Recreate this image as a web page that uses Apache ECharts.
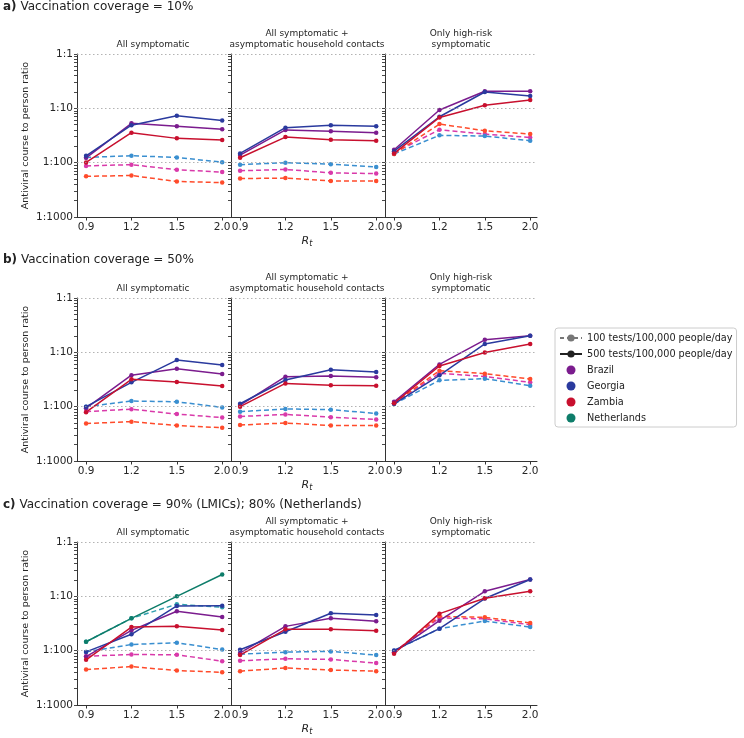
<!DOCTYPE html>
<html>
<head>
<meta charset="utf-8">
<script src="https://cdn.jsdelivr.net/npm/echarts@6/dist/echarts.min.js"></script>
<style>
  html, body { margin: 0; padding: 0; background: #fff; }
  #chart { width: 744px; height: 738px; }
</style>
</head>
<body>
<div id="chart"></div>
<script>
// x categories (Rt) and y ticks (courses per person, log scale)
const rtLabels = ['0.9', '1.2', '1.5', '2.0'];
const yMajor = [0.001, 0.01, 0.1, 1];
const yMinor = [0.002, 0.003, 0.004, 0.005, 0.006, 0.007, 0.008, 0.009,
                0.02, 0.03, 0.04, 0.05, 0.06, 0.07, 0.08, 0.09,
                0.2, 0.3, 0.4, 0.5, 0.6, 0.7, 0.8, 0.9];

const rowTitles = [
    ['a)', 'Vaccination coverage = 10%'],
    ['b)', 'Vaccination coverage = 50%'],
    ['c)', 'Vaccination coverage = 90% (LMICs); 80% (Netherlands)'],
];
const panelTitles = ['All symptomatic', 'All symptomatic +\nasymptomatic household contacts', 'Only high-risk\nsymptomatic'];

// values = antiviral courses per person; *500 = 500 tests (solid), *100 = 100 tests (dashed)
// a) 10% coverage
const aAllSymp = {
    Brazil500: [0.0123, 0.053, 0.047, 0.041], Georgia500: [0.0134, 0.049, 0.073, 0.060], Zambia500: [0.0101, 0.0356, 0.028, 0.026],
    Brazil100: [0.0087, 0.0092, 0.0074, 0.0067], Georgia100: [0.0125, 0.0134, 0.0125, 0.0102], Zambia100: [0.0056, 0.0058, 0.0045, 0.0043],
};
const aHousehold = {
    Brazil500: [0.0138, 0.040, 0.038, 0.0356], Georgia500: [0.0148, 0.044, 0.0486, 0.0466], Zambia500: [0.0123, 0.0296, 0.0264, 0.0253],
    Brazil100: [0.0071, 0.0075, 0.0065, 0.0063], Georgia100: [0.0092, 0.0100, 0.0094, 0.0083], Zambia100: [0.0051, 0.0052, 0.0046, 0.0046],
};
const aHighRisk = {
    Brazil500: [0.0173, 0.093, 0.206, 0.206], Georgia500: [0.0163, 0.070, 0.200, 0.168], Zambia500: [0.0148, 0.068, 0.1135, 0.142],
    Brazil100: [0.0152, 0.0404, 0.0336, 0.029], Georgia100: [0.0145, 0.0318, 0.0309, 0.0253], Zambia100: [0.0145, 0.0514, 0.0387, 0.0336],
};
// b) 50% coverage
const bAllSymp = {
    Brazil500: [0.0094, 0.038, 0.050, 0.040], Georgia500: [0.0100, 0.028, 0.072, 0.0586], Zambia500: [0.0079, 0.0318, 0.0284, 0.024],
    Brazil100: [0.0081, 0.0090, 0.0073, 0.0063], Georgia100: [0.0100, 0.0127, 0.0123, 0.0097], Zambia100: [0.0049, 0.0053, 0.0045, 0.0041],
};
const bHousehold = {
    Brazil500: [0.0107, 0.0356, 0.0367, 0.0347], Georgia500: [0.0113, 0.031, 0.048, 0.0435], Zambia500: [0.0100, 0.0268, 0.0247, 0.0243],
    Brazil100: [0.0066, 0.0072, 0.0064, 0.0058], Georgia100: [0.0081, 0.0091, 0.0088, 0.0075], Zambia100: [0.0046, 0.0050, 0.0045, 0.0045],
};
const bHighRisk = {
    Brazil500: [0.0123, 0.060, 0.170, 0.201], Georgia500: [0.0113, 0.0378, 0.143, 0.201], Zambia500: [0.0116, 0.056, 0.099, 0.143],
    Brazil100: [0.0116, 0.041, 0.036, 0.028], Georgia100: [0.0112, 0.0305, 0.0327, 0.0243], Zambia100: [0.0116, 0.046, 0.0405, 0.0323],
};
// c) 90% (LMICs) / 80% (Netherlands)
const cAllSymp = {
    Brazil500: [0.0078, 0.0236, 0.053, 0.0417], Georgia500: [0.0095, 0.020, 0.0665, 0.067], Zambia500: [0.0068, 0.0272, 0.028, 0.0239],
    Netherlands500: [0.0146, 0.0394, 0.100, 0.252],
    Brazil100: [0.0079, 0.0085, 0.0084, 0.0064], Georgia100: [0.0095, 0.013, 0.014, 0.0105], Zambia100: [0.0045, 0.0051, 0.0043, 0.0040],
    Netherlands100: [0.0146, 0.0394, 0.0715, 0.063],
};
const cHousehold = {
    Brazil500: [0.0091, 0.028, 0.0394, 0.0347], Georgia500: [0.0104, 0.0223, 0.0487, 0.0454], Zambia500: [0.0083, 0.0247, 0.0247, 0.0233],
    Brazil100: [0.0065, 0.0071, 0.0069, 0.0059], Georgia100: [0.0086, 0.0094, 0.0097, 0.0083], Zambia100: [0.0042, 0.0048, 0.0044, 0.0042],
};
const cHighRisk = {
    Brazil500: [0.0094, 0.0356, 0.124, 0.204], Georgia500: [0.0101, 0.0254, 0.091, 0.204], Zambia500: [0.0088, 0.048, 0.092, 0.124],
    Brazil100: [0.0095, 0.040, 0.0385, 0.030], Georgia100: [0.0100, 0.0254, 0.0351, 0.0272], Zambia100: [0.0092, 0.0429, 0.041, 0.0323],
};

const panels = [
    [aAllSymp, aHousehold, aHighRisk],
    [bAllSymp, bHousehold, bHighRisk],
    [cAllSymp, cHousehold, cHighRisk],
];

const countries = ['Brazil', 'Georgia', 'Zambia', 'Netherlands'];
const solidColor = { Brazil: '#7b1c8e', Georgia: '#2a3a9e', Zambia: '#c8102e', Netherlands: '#0e7d6a' };
const dashColor = { Brazil: '#d93aaa', Georgia: '#3a8fd0', Zambia: '#ff4b2b', Netherlands: '#2e9fae' };
const legendTest100 = '100 tests/100,000 people/day';
const legendTest500 = '500 tests/100,000 people/day';

const FONT = 'DejaVu Sans';
const INK = '#262626';
const colLeft = [77, 231, 385];
const rowTop = [54, 298, 542];
const rowTitleTop = [1, 254, 499];
const panelW = 152, panelH = 163;

const chart = echarts.init(document.getElementById('chart'));

const grids = [], xAxes = [], yAxes = [], series = [], graphics = [];

panels.forEach((row, r) => {
    graphics.push({
        type: 'text', left: 3, top: rowTitleTop[r],
        style: {
            text: '{b|' + rowTitles[r][0] + '} ' + rowTitles[r][1],
            font: '12px ' + FONT, fill: '#222',
            rich: { b: { fontWeight: 'bold', fontSize: 12, fontFamily: FONT, fill: '#222' } },
        },
    });
    graphics.push({
        type: 'text', x: colLeft[1] + panelW / 2, y: rowTop[r] + panelH + 17,
        style: {
            text: '{r|R}{s|t}', align: 'center', verticalAlign: 'top',
            rich: {
                r: { fontStyle: 'italic', fontSize: 11, fontFamily: FONT, fill: INK, lineHeight: 14, verticalAlign: 'middle' },
                s: { fontStyle: 'italic', fontSize: 8, fontFamily: FONT, fill: INK, lineHeight: 14, verticalAlign: 'bottom' },
            },
        },
    });

    row.forEach((panel, c) => {
        const idx = r * 3 + c;
        grids.push({ left: colLeft[c], top: rowTop[r], width: panelW, height: panelH });

        graphics.push({
            type: 'text', x: colLeft[c] + panelW / 2, y: rowTop[r] - 4,
            style: { text: panelTitles[c], align: 'center', verticalAlign: 'bottom', font: '9px ' + FONT, fill: INK, lineHeight: 11 },
        });

        xAxes.push({
            gridIndex: idx, type: 'value', min: -0.2, max: 3.15,
            axisLine: { show: true, onZero: false, lineStyle: { color: '#333', width: 1 } },
            axisTick: { show: true, customValues: [0, 1, 2, 3], length: 3.5, lineStyle: { color: '#333' } },
            axisLabel: { customValues: [0, 1, 2, 3], formatter: v => rtLabels[v], fontSize: 10.5, fontFamily: FONT, color: INK, margin: 5 },
            splitLine: { show: false },
            z: 3,
        });

        yAxes.push({
            gridIndex: idx, type: 'log', logBase: 10, min: yMajor[0], max: yMajor[yMajor.length - 1],
            position: 'left',
            name: c === 0 ? 'Antiviral course to person ratio' : '',
            nameLocation: 'middle', nameGap: 46,
            nameTextStyle: { fontSize: 9.5, fontFamily: FONT, color: INK },
            axisLine: { show: true, onZero: false, lineStyle: { color: '#333', width: 1 } },
            axisTick: { show: true, customValues: yMajor.concat(yMinor), length: 3, lineStyle: { color: '#333', width: 0.9 } },
            axisLabel: { show: c === 0, customValues: yMajor, formatter: v => '1:' + Math.round(1 / v), fontSize: 10.5, fontFamily: FONT, color: INK, margin: 4 },
            splitLine: { show: false },
            z: 3,
        });

        // dotted major gridlines at each decade
        series.push({
            name: `${idx}-grid`, type: 'line', xAxisIndex: idx, yAxisIndex: idx, data: [],
            silent: true, z: 1,
            markLine: {
                silent: true, symbol: 'none', label: { show: false }, animation: false,
                lineStyle: { type: [1.5, 2.5], color: '#a0a0a0', width: 0.8 },
                emphasis: { disabled: true },
                data: yMajor.slice(1).map(v => ({ yAxis: v })),
            },
        });

        // dashed (100 tests) below, solid (500 tests) on top
        ['100', '500'].forEach(t => {
            countries.forEach(cn => {
                const vals = panel[cn + t];
                if (!vals) return;
                const col = t === '100' ? dashColor[cn] : solidColor[cn];
                series.push({
                    name: `${idx}-${cn}-${t}`, type: 'line',
                    xAxisIndex: idx, yAxisIndex: idx,
                    data: vals.map((v, i) => [i, v]),
                    symbol: 'circle', symbolSize: 4.5,
                    lineStyle: { color: col, width: 1.5, type: t === '100' ? [5, 3] : 'solid' },
                    itemStyle: { color: col },
                    emphasis: { disabled: true }, silent: true, z: 2,
                });
            });
        });
    });
});

// legend-only series
series.push({
    name: legendTest100, type: 'line', xAxisIndex: 0, yAxisIndex: 0, data: [],
    symbol: 'circle', symbolSize: 6,
    lineStyle: { color: '#777', width: 1.5, type: [4, 3] }, itemStyle: { color: '#777' },
});
series.push({
    name: legendTest500, type: 'line', xAxisIndex: 0, yAxisIndex: 0, data: [],
    symbol: 'circle', symbolSize: 6,
    lineStyle: { color: '#222', width: 1.5 }, itemStyle: { color: '#222' },
});
countries.forEach(cn => {
    series.push({ name: cn, type: 'scatter', xAxisIndex: 0, yAxisIndex: 0, data: [], itemStyle: { color: solidColor[cn], opacity: 1 } });
});

chart.setOption({
    animation: false,
    grid: grids,
    xAxis: xAxes,
    yAxis: yAxes,
    series: series,
    graphic: graphics,
    legend: {
        orient: 'vertical', left: 555, top: 328,
        data: [legendTest100, legendTest500].concat(countries.map(cn => ({ name: cn, icon: 'circle', itemStyle: { opacity: 1 } }))),
        itemWidth: 22, itemHeight: 9, itemGap: 6,
        selectedMode: false,
        textStyle: { fontSize: 9.7, fontFamily: FONT, color: '#222' },
        borderColor: '#cccccc', borderWidth: 1, borderRadius: 3,
        padding: [5, 4, 4, 4],
    },
});
</script>
</body>
</html>
